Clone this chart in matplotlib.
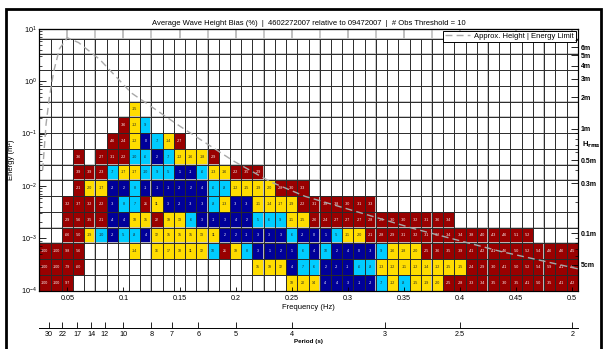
import numpy as np
import matplotlib
matplotlib.use('Agg')
import matplotlib.pyplot as plt
from matplotlib.colors import ListedColormap, BoundaryNorm
from matplotlib.patches import Rectangle
from matplotlib.ticker import NullFormatter

plt.rcParams['font.family'] = ['Liberation Sans', 'DejaVu Sans']
plt.rcParams['mathtext.fontset'] = 'custom'
plt.rcParams['mathtext.rm'] = 'Liberation Sans'
plt.rcParams['mathtext.it'] = 'Liberation Sans:italic'

TITLE = ('Average Wave Height Bias (%)  |  4602272007 relative to 09472007  |  '
         '# Obs Threshold = 10')

# frequency bins (Hz), 0.01 wide; energy bands double each row starting at 1e-4 m^2
freq_centers = np.round(np.arange(0.03, 0.5001, 0.01), 2)
n_bands = 16

# bias (%) per energy band: {first frequency of a run: values}
band_00 = {0.03: [-100, -100, -97],
           0.25: [18, 20, 14, 4, 4, 3, -1, -2, -7, -12, -8, -15, -19, -20, -25,
                  -28, -33, -34, -35, -30, -35, -41, -50, -35, -41, -42]}
band_01 = {0.03: [-100, -100, -79, -60],
           0.22: [15, 19, 12, 4, 7, 6, 2, -2, -1, -6, -8, -13, -12, -11, -12,
                  -14, -12, -15, -15, -24, -29, -30, -41, -50, -52, -54, -59,
                  -41, -40]}
band_02 = {0.03: [-100, -100, -98, -56],
           0.11: [-14],
           0.13: [16, 17, 18, 11, 12, 10, 21, 19, 8, 3, 1, 2, 1, 6, 4, 10, 2, 4,
                  0, -3, -9, -16, -18, -20, -25, -36, -35, -39, -41, -42, -41,
                  -46, -50, -52, -54, -46, -46, -45]}
band_03 = {0.05: [-66, -50, -19, -10, -2, -5, -8, 4, 12, 15, 15, 15, 13, 11, 2,
                  2, -1, 3, 3, 3, 6, -2, 0, 1, -5, -11, -20, -21, -28, -29, -31,
                  -32, -31, -32, -34, -34, -38, -40, -43, -46, -51, -52]}
band_04 = {0.05: [-29, -56, -35, -21, -4, 4, 18, 15, 22, 19, 13, 6, 3, -1, 3, 4,
                  2, 5, 6, -9, -11, -15, -26, -24, -27, -27, -27, -28, -29, -30,
                  -30, -32, -31, -36, -34]}
band_05 = {0.05: [-32, -37, -32, -22, -3, 8, 7, 21, 11, 3, -2, -3, -3, -8, -13,
                  -3, -3, -11, -14, -17, -19, -22, -31, -38, -38, -30, -31, -33]}
band_06 = {0.06: [-21, -20, -17, -2, 2, 8, -1, -1, -1, -2, 2, 4, -6, -8, -12,
                  -15, -19, -20, -28, -30, -33]}
band_07 = {0.06: [-39, -39, -23, -7, -17, -17, -10, -9, -5, 1, -1, -6, -13, -16,
                  -22, -35, -29]}
band_08 = {0.06: [-36],
           0.08: [-27, -31, -22, -10, -6, 2, -7, -12, -16, -18, -29]}
band_09 = {0.09: [-46, -24, -12, 0, -7, -14, -27]}
band_10 = {0.10: [-36, -12, -9]}
band_11 = {0.11: [-15]}
bands = [band_00, band_01, band_02, band_03, band_04, band_05,
         band_06, band_07, band_08, band_09, band_10, band_11]

# approx. height / energy limit curve
limit_freq = [0.028, 0.031, 0.034, 0.038, 0.043, 0.05, 0.06, 0.079, 0.107,
              0.15, 0.198, 0.231, 0.262, 0.36, 0.436, 0.505]
limit_energy = [0.02, 0.15, 0.5, 1.6, 4.2, 6.8, 5.5, 2.6, 0.6,
                0.14, 0.03, 0.012, 0.0063, 0.0015, 0.00056, 0.00026]

# right axis: rms wave height, E = H^2 / 8
hrms_major = [6, 5, 4, 3, 2, 1, 0.5, 0.3, 0.1, 0.05]
hrms_labels = ['6m', '5m', '4m', '3m', '2m', '1m', '0.5m', '0.3m', '0.1m', '5cm']
hrms_minor = [7, 0.9, 0.8, 0.7, 0.6, 0.4, 0.2, 0.09, 0.08, 0.07, 0.06]

period_ticks = [30, 22, 17, 14, 12, 10, 8, 7, 6, 5, 4, 3, 2.5, 2]
period_labels = ['30', '22', '17', '14', '12', '10', '8', '7', '6', '5', '4',
                 '3', '2.5', '2']

freq_ticks = [0.05, 0.1, 0.15, 0.2, 0.25, 0.3, 0.35, 0.4, 0.45, 0.5]
freq_labels = ['0.05', '0.1', '0.15', '0.2', '0.25', '0.3', '0.35', '0.4',
               '0.45', '0.5']

BIAS_COLORS = ['#000099', '#00CCFF', '#FFDD00', '#990000']
BIAS_LEVELS = [0, 4.5, 10.5, 20.5, 1000]

# ---- build grid
x_edges = np.append(freq_centers - 0.005, freq_centers[-1] + 0.005)
y_edges = 1e-4 * 2.0 ** np.arange(n_bands + 1)
bias = np.full((n_bands, len(freq_centers)), np.nan)
for b, runs in enumerate(bands):
    for f0, vals in runs.items():
        c0 = int(round((f0 - freq_centers[0]) / 0.01))
        bias[b, c0:c0 + len(vals)] = vals

fig = plt.figure(figsize=(6.06, 3.49), dpi=100)
W, H = 606.0, 349.0
x0, x1, y0, y1 = 39.3, 577.8, 290.5, 29.0
ax = fig.add_axes([x0 / W, 1 - y0 / H, (x1 - x0) / W, (y0 - y1) / H])
ax.set_yscale('log')
ax.set_xlim(0.025, 0.505)
ax.set_ylim(1e-4, 10)

cmap = ListedColormap(BIAS_COLORS)
cmap.set_bad((0, 0, 0, 0))
norm = BoundaryNorm(BIAS_LEVELS, cmap.N)
ax.pcolormesh(x_edges, y_edges, np.ma.masked_invalid(np.abs(bias)),
              cmap=cmap, norm=norm, zorder=1)

# gray guide lines, then black cell borders
gray_x = x_edges[[0, 5, 10, 15, 20, 25, 30, 35, 40, 45]]
gray_y = y_edges[[3, 4, 7, 8, 11, 12, 15, 16]]
ax.vlines(gray_x, 1e-4, 10, colors='#c4c4c4', lw=1.3, zorder=1.5)
ax.hlines(gray_y, 0.025, 0.505, colors='#c4c4c4', lw=1.3, zorder=1.5)
ax.vlines(x_edges, 1e-4, y_edges[-1], colors='#2a2a2a', lw=0.7, zorder=2)
ax.hlines(y_edges, 0.025, 0.505, colors='#2a2a2a', lw=0.7, zorder=2)

for b in range(n_bands):
    yc = np.sqrt(y_edges[b] * y_edges[b + 1])
    for c, fc in enumerate(freq_centers):
        v = bias[b, c]
        if np.isnan(v):
            continue
        dark = abs(v) < 4.5 or abs(v) > 20.5
        ax.text(fc, yc, f'{int(v)}', ha='center', va='center', fontsize=2.6,
                color='white' if dark else '#202020', zorder=3)

ax.plot(limit_freq, limit_energy, ls=(0, (5, 3)), color='#a8a8a8', lw=1.0,
        zorder=4, label='Approx. Height | Energy Limit')
leg = ax.legend(loc='upper right', fontsize=5.5, fancybox=False,
                edgecolor='black', framealpha=1, borderaxespad=0.25,
                borderpad=0.25, handlelength=3.2, handletextpad=0.6)
leg.get_frame().set_linewidth(0.7)

ax.set_xticks(freq_ticks, freq_labels)
ax.tick_params(axis='x', direction='in', length=3, width=0.6, labelsize=5.2,
               pad=3)
ax.tick_params(axis='y', which='major', direction='in', length=5, width=0.6,
               labelsize=5.2, pad=2)
ax.tick_params(axis='y', which='minor', direction='in', length=2.5, width=0.5)
for sp in ax.spines.values():
    sp.set_linewidth(0.8)
top = ax.secondary_xaxis('top')
top.set_xticks(freq_ticks)
top.tick_params(direction='in', length=7, width=1.2, color='#b4b4b4',
                labeltop=False)

ax.set_xlabel('Frequency (Hz)', fontsize=5.5)
ax.xaxis.set_label_coords(0.5, -0.05)
ax.set_ylabel('Energy (m²)', fontsize=5.5)
ax.yaxis.set_label_coords(-0.045, 0.5)
ax.set_title(TITLE, fontsize=5.5, pad=3)

ax_r = ax.twinx()
ax_r.set_yscale('log')
ax_r.set_ylim(ax.get_ylim())
ax_r.set_yticks([h ** 2 / 8 for h in hrms_major], hrms_labels)
ax_r.set_yticks([h ** 2 / 8 for h in hrms_minor], minor=True)
ax_r.yaxis.set_minor_formatter(NullFormatter())
ax_r.tick_params(axis='y', which='major', direction='in', length=5, width=0.6,
                 labelsize=5, pad=2)
ax_r.tick_params(axis='y', which='minor', direction='in', length=2.5,
                 width=0.5)
for lbl in ax_r.get_yticklabels():
    lbl.set_fontweight('bold')
fig.text(582 / W, 1 - 145 / H, r'H$_{\mathbf{rms}}$', fontsize=5.5,
         fontweight='bold', va='center', ha='left')

# period axis below
pax = fig.add_axes([x0 / W, 1 - 328.3 / H, (x1 - x0) / W, 0.001])
pax.set_xlim(0.025, 0.505)
pax.set_xticks([1.0 / p for p in period_ticks], period_labels)
pax.set_yticks([])
for side in ['top', 'left', 'right']:
    pax.spines[side].set_visible(False)
pax.spines['bottom'].set_linewidth(0.7)
pax.tick_params(axis='x', direction='in', length=4, width=0.6, labelsize=5.2,
                pad=2)
pax.set_xlabel('Period (s)', fontsize=4.5, fontweight='bold', labelpad=1)
pax.patch.set_visible(False)

fig.patches.append(Rectangle((6 / W, -0.05), (601 - 6) / W, 1.05 - 9 / H,
                             transform=fig.transFigure, fill=False,
                             lw=2, ec='black'))

fig.savefig('out.png', dpi=100)
plt.close()
